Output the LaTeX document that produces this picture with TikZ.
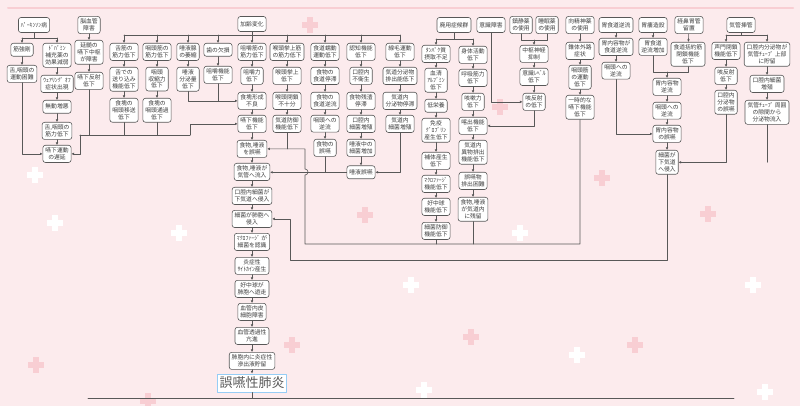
\documentclass[tikz,border=0pt]{standalone}
\usepackage{fontspec}
\newfontfamily\jp{Noto Sans CJK JP}
\usetikzlibrary{arrows.meta}
\definecolor{bgpink}{RGB}{252,235,237}
\definecolor{crpink}{RGB}{248,206,211}
\definecolor{edge}{RGB}{88,88,88}
\definecolor{ink}{RGB}{60,60,60}
\definecolor{ttl}{RGB}{150,205,245}
\begin{document}
\begin{tikzpicture}[x=1pt,y=-1pt,line cap=round,line join=round,
  bx/.style={draw=edge,fill=white,rounded corners=2.5pt,line width=0.6pt,align=center,anchor=north,
    inner xsep=2.5pt,inner ysep=2.5pt,minimum width=22pt,minimum height=13pt,text=ink,
    font=\jp\fontsize{5.8}{6.8}\selectfont},
  hd/.style={anchor=center,minimum height=15pt},
  arr/.style={draw=edge,line width=0.6pt,-{Latex[length=2.6pt,width=2.6pt]}},
  con/.style={draw=edge,line width=0.6pt}]
  \def\pluscross#1#2#3{\fill[#3] (#1-3,#2-8) rectangle (#1+3,#2+8); \fill[#3] (#1-8,#2-3) rectangle (#1+8,#2+3);}
  \fill[bgpink] (0,0) rectangle (800,406);
  \useasboundingbox (0,0) rectangle (800,406);
  \draw[crpink,line width=2pt] (8,8) -- (793,8);
  \pluscross{310}{25}{crpink} \pluscross{500}{107}{crpink} \pluscross{602}{178}{crpink}
  \pluscross{708}{214}{crpink} \pluscross{365}{215}{crpink} \pluscross{292}{345}{crpink}
  \pluscross{36}{365}{crpink} \pluscross{471}{337}{crpink} \pluscross{635}{345}{crpink}
  \pluscross{148}{401}{crpink}
  \pluscross{35}{175}{white} \pluscross{55}{223}{white} \pluscross{179}{233}{white}
  \pluscross{411}{285}{white} \pluscross{577}{355}{white} \pluscross{753}{285}{white}
  \pluscross{520}{233}{white} \pluscross{424}{390}{white} \pluscross{765}{392}{white}
  \coordinate (bA) at (0,38); \coordinate (bK) at (0,35); \coordinate (bH) at (0,39);
  \coordinate (bC) at (0,40); \coordinate (bS) at (0,35);
  \coordinate (j1) at (80,135); \coordinate (j2) at (190,135);
  \coordinate (j3) at (305,244); \coordinate (j4) at (290,260); \coordinate (j5) at (667,72);
  \coordinate (bl) at (88,398); \coordinate (br) at (734,398);

  \node[bx,hd] (pk) at (34,25) {ﾊﾟｰｷﾝｿﾝ病};
  \node[bx] (kyo) at (22,43) {筋強剛};
  \node[bx] (undo) at (22,65) {舌,咽頭の\\運動困難};
  \node[bx] (dopa) at (57,43) {ﾄﾞﾊﾟﾐﾝ\\補充薬の\\効果減弱};
  \node[bx] (woff) at (57,75) {ｳｪｱﾘﾝｸﾞ ｵﾌ\\症状出現};
  \node[bx] (mudo) at (57,100) {無動増悪};
  \node[bx] (zkin) at (57,122) {舌,咽頭の\\筋力低下};
  \node[bx] (chien) at (57,145) {嚥下運動\\の遅延};
  \node[bx,hd] (nou) at (89,25) {脳血管\\障害};
  \node[bx] (enzui) at (89,40) {延髄の\\嚥下中枢\\が障害};
  \node[bx] (hansha) at (89,72) {嚥下反射\\低下};

  \node[bx,hd] (karei) at (252,24) {加齢変化};
  \node[bx] (zekkin) at (124,43) {舌筋の\\筋力低下};
  \node[bx] (okuri) at (124,67) {舌での\\送り込み\\機能低下};
  \node[bx] (iso) at (124,98) {食塊の\\咽頭移送\\低下};
  \node[bx] (inkin) at (157,43) {咽頭筋の\\筋力低下};
  \node[bx] (shuku) at (157,67) {咽頭\\収縮力\\低下};
  \node[bx] (tsuka) at (157,98) {食塊の\\咽頭通過\\低下};
  \node[bx] (daeki) at (188,43) {唾液腺\\の萎縮};
  \node[bx] (bunpi) at (188,67) {唾液\\分泌量\\低下};
  \node[bx] (ha) at (218,43) {歯の欠損};
  \node[bx] (soshaku) at (218,66) {咀嚼機能\\低下};
  \node[bx] (sokin) at (252,43) {咀嚼筋の\\筋力低下};
  \node[bx] (soryoku) at (252,67) {咀嚼力\\低下};
  \node[bx] (keisei) at (252,92) {食塊形成\\不良};
  \node[bx] (enge) at (252,115) {嚥下機能\\低下};
  \node[bx] (kokin) at (287,43) {喉頭挙上筋\\の筋力低下};
  \node[bx] (kyojo) at (287,67) {喉頭挙上\\低下};
  \node[bx] (heisa) at (287,92) {喉頭閉鎖\\不十分};
  \node[bx] (bogyo) at (287,115) {気道防御\\機能低下};
  \node[bx] (zendo) at (325,43) {食道蠕動\\運動低下};
  \node[bx] (teitai) at (325,67) {食物の\\食道停滞};
  \node[bx] (gyaku) at (325,92) {食物の\\食道逆流};
  \node[bx] (ingyaku) at (325,115) {咽頭への\\逆流};
  \node[bx] (shokugo) at (325,139) {食物の\\誤嚥};
  \node[bx] (ninchi) at (361,43) {認知機能\\低下};
  \node[bx] (fuei) at (361,67) {口腔内\\不衛生};
  \node[bx] (zansa) at (361,92) {食物残渣\\停滞};
  \node[bx] (kzo) at (361,115) {口腔内\\細菌増殖};
  \node[bx] (dzo) at (361,139) {唾液中の\\細菌増加};
  \node[bx] (dgo) at (361,165.5) {唾液誤嚥};
  \node[bx] (senmo) at (400,43) {線毛運動\\低下};
  \node[bx] (haishutsu) at (400,67) {気道分泌物\\排出能低下};
  \node[bx] (bteitai) at (400,92) {気道内\\分泌物停滞};
  \node[bx] (bzo) at (400,115) {気道内\\細菌増殖};

  \node[bx] (sgo) at (252,140) {食物,唾液\\を誤嚥};
  \node[bx] (ryunyu) at (252,163) {食物,唾液が\\気管へ流入};
  \node[bx] (shinnyu) at (252,187) {口腔内細菌が\\下気道へ侵入};
  \node[bx] (haihou) at (252,210) {細菌が肺胞へ\\侵入};
  \node[bx] (macro) at (252,233) {ﾏｸﾛﾌｧｰｼﾞ が\\細菌を認識};
  \node[bx] (cyto) at (252,257) {炎症性\\ｻｲﾄｶｲﾝ産生};
  \node[bx] (kochu) at (252,280) {好中球が\\肺胞へ遊走};
  \node[bx] (naihi) at (252,303) {血管内皮\\細胞障害};
  \node[bx] (toka) at (252,327) {血管透過性\\亢進};
  \node[bx] (shinshutsu) at (252,352) {肺胞内に炎症性\\滲出液貯留};
  \node[draw=ttl,fill=white,line width=1pt,inner xsep=2pt,inner ysep=1pt,minimum height=18pt,text=ink!85,
    font=\jp\fontsize{13}{13}\selectfont] (title) at (252,383) {誤嚥性肺炎};

  \node[bx,hd] (haiyo) at (454,25) {廃用症候群};
  \node[bx] (tanpaku) at (436,45) {ﾀﾝﾊﾟｸ質\\摂取不足};
  \node[bx] (alb) at (436,68) {血清\\ｱﾙﾌﾞﾐﾝ\\低下};
  \node[bx] (teiei) at (436,99) {低栄養};
  \node[bx] (men) at (436,118) {免疫\\ｸﾞﾛﾌﾞﾘﾝ\\産生低下};
  \node[bx] (hotai) at (436,152) {補体産生\\低下};
  \node[bx] (mkino) at (436,175) {ﾏｸﾛﾌｧｰｼﾞ\\機能低下};
  \node[bx] (ckino) at (436,198) {好中球\\機能低下};
  \node[bx] (bbogyo) at (436,222) {細菌防御\\機能低下};
  \node[bx] (katsudo) at (473,46) {身体活動\\低下};
  \node[bx] (kokyu) at (473,69) {呼吸筋力\\低下};
  \node[bx] (gaiso) at (473,93) {咳嗽力\\低下};
  \node[bx] (kaku) at (473,117) {喀出機能\\低下};
  \node[bx] (ibutsu) at (473,140) {気道内\\異物排出\\機能低下};
  \node[bx] (gohai) at (473,172) {誤嚥物\\排出困難};
  \node[bx] (zanryu) at (473,197) {食物,唾液\\が気道内\\に残留};

  \node[bx,hd] (ishiki) at (491,25) {意識障害};
  \node[bx,hd] (chinsei) at (521,25) {鎮静薬\\の使用};
  \node[bx,hd] (suimin) at (547,25) {睡眠薬\\の使用};
  \node[bx] (chusu) at (534,45) {中枢神経\\抑制};
  \node[bx] (level) at (534,68) {意識ﾚﾍﾞﾙ\\低下};
  \node[bx] (seki) at (534,93) {咳反射\\の低下};
  \node[bx,hd] (kosei) at (580,25) {向精神薬\\の使用};
  \node[bx] (suitai) at (580,42) {錐体外路\\症状};
  \node[bx] (inundo) at (580,65) {咽頭筋\\の運動\\低下};
  \node[bx] (ichiji) at (580,95) {一時的な\\嚥下機能\\低下};
  \node[bx,hd] (igerd) at (616,25) {胃食道逆流};
  \node[bx] (inaiyo) at (616,38) {胃内容物が\\食道逆流};
  \node[bx] (ingyaku2) at (616,62) {咽頭への\\逆流};
  \node[bx,hd] (irou) at (653,25) {胃瘻造設};
  \node[bx] (izo) at (653,38) {胃食道\\逆流増加};
  \node[bx,hd] (keibi) at (689,25) {経鼻胃管\\留置};
  \node[bx] (katsuyaku) at (688,42) {食道括約筋\\閉鎖機能\\低下};
  \node[bx] (ngyaku) at (667,78) {胃内容物\\逆流};
  \node[bx] (ingyaku3) at (667,102) {咽頭への\\逆流};
  \node[bx] (igo) at (667,125) {胃内容物\\の誤嚥};
  \node[bx] (kadoki) at (667,150) {細菌が\\下気道\\へ侵入};
  \node[bx,hd] (sokan) at (741,25) {気管挿管};
  \node[bx] (seimon) at (726,42) {声門閉鎖\\機能低下};
  \node[bx] (seki2) at (726,67) {咳反射\\低下};
  \node[bx] (bgo) at (726,90) {口腔内\\分泌物\\の誤嚥};
  \node[bx] (choryu) at (767,42) {口腔内分泌物が\\気管ﾁｭｰﾌﾞ 上部\\に貯留};
  \node[bx] (kzo2) at (767,75) {口腔内細菌\\増殖};
  \node[bx] (sukima) at (767,100) {気管ﾁｭｰﾌﾞ 周囲\\の隙間から\\分泌物流入};

  \draw[con] (pk) -- (pk |- bA); \draw[con] (kyo |- bA) -- (dopa |- bA);
  \draw[arr] (kyo |- bA) -- (kyo); \draw[arr] (dopa |- bA) -- (dopa);
  \draw[arr] (kyo) -- (undo); \draw[arr] (dopa) -- (woff); \draw[arr] (woff) -- (mudo);
  \draw[arr] (mudo) -- (zkin); \draw[arr] (zkin) -- (chien); \draw[arr] (undo) |- (chien);
  \draw[arr] (nou) -- (enzui); \draw[arr] (enzui) -- (hansha);
  \draw[con] (hansha) |- (j1); \draw[arr] (j1) |- (chien); \draw[con] (j1) -- (j2);
  \draw[arr] (j2) |- (enge); \draw[con] (iso) -- (iso |- j1); \draw[con] (tsuka) -- (tsuka |- j1);

  \draw[con] (karei) -- (karei |- bK); \draw[con] (zekkin |- bK) -- (senmo |- bK);
  \draw[arr] (zekkin |- bK) -- (zekkin); \draw[arr] (inkin |- bK) -- (inkin);
  \draw[arr] (daeki |- bK) -- (daeki); \draw[arr] (ha |- bK) -- (ha);
  \draw[arr] (sokin |- bK) -- (sokin); \draw[arr] (kokin |- bK) -- (kokin);
  \draw[arr] (zendo |- bK) -- (zendo); \draw[arr] (ninchi |- bK) -- (ninchi);
  \draw[arr] (senmo |- bK) -- (senmo);
  \draw[arr] (zekkin) -- (okuri); \draw[arr] (okuri) -- (iso);
  \draw[arr] (inkin) -- (shuku); \draw[arr] (shuku) -- (tsuka);
  \draw[arr] (daeki) -- (bunpi); \draw[arr] (ha) -- (soshaku);
  \draw[arr] (bunpi) |- (keisei); \draw[con] (soshaku) -- (soshaku |- keisei);
  \draw[arr] (sokin) -- (soryoku); \draw[arr] (soryoku) -- (keisei); \draw[arr] (keisei) -- (enge);
  \draw[arr] (enge) -- (sgo); \draw[arr] (sgo) -- (ryunyu); \draw[arr] (ryunyu) -- (shinnyu);
  \draw[arr] (shinnyu) -- (haihou); \draw[arr] (haihou) -- (macro); \draw[arr] (macro) -- (cyto);
  \draw[arr] (cyto) -- (kochu); \draw[arr] (kochu) -- (naihi); \draw[arr] (naihi) -- (toka);
  \draw[arr] (toka) -- (shinshutsu); \draw[arr] (shinshutsu) -- (title);
  \draw[arr] (kokin) -- (kyojo); \draw[arr] (kyojo) -- (heisa); \draw[arr] (heisa) -- (bogyo);
  \draw[con] (bogyo) -- (bogyo |- sgo);
  \draw[arr] (zendo) -- (teitai); \draw[arr] (teitai) -- (gyaku); \draw[arr] (gyaku) -- (ingyaku);
  \draw[arr] (ingyaku) -- (shokugo); \draw[con] (shokugo) -- (shokugo |- dgo);
  \draw[arr] (ninchi) -- (fuei); \draw[arr] (fuei) -- (zansa); \draw[arr] (zansa) -- (kzo);
  \draw[arr] (kzo) -- (dzo); \draw[arr] (dzo) -- (dgo); \draw[arr] (dgo) -- (dgo -| ryunyu.east);
  \draw[arr] (senmo) -- (haishutsu); \draw[arr] (haishutsu) -- (bteitai); \draw[arr] (bteitai) -- (bzo);
  \draw[arr] (bzo) |- (dgo);

  \draw[con] (haiyo) -- (haiyo |- bH); \draw[con] (tanpaku |- bH) -- (katsudo |- bH);
  \draw[arr] (tanpaku |- bH) -- (tanpaku); \draw[arr] (katsudo |- bH) -- (katsudo);
  \draw[arr] (tanpaku) -- (alb); \draw[arr] (alb) -- (teiei); \draw[arr] (teiei) -- (men);
  \draw[arr] (men) -- (hotai); \draw[arr] (hotai) -- (mkino); \draw[arr] (mkino) -- (ckino);
  \draw[arr] (ckino) -- (bbogyo);
  \draw[arr] (katsudo) -- (kokyu); \draw[arr] (kokyu) -- (gaiso); \draw[arr] (gaiso) -- (kaku);
  \draw[arr] (kaku) -- (ibutsu); \draw[arr] (ibutsu) -- (gohai); \draw[arr] (gohai) -- (zanryu);
  \draw[con] (bbogyo) -- (bbogyo |- j3); \draw[con] (zanryu) -- (zanryu |- j3);
  \draw[arr] (ichiji) |- (j3) -- (305,175) arc[start angle=90,end angle=-90,radius=3] |- (sgo);

  \draw[arr] (ishiki) |- (seki);
  \draw[con] (chinsei) -- (chinsei |- bC) -- (suimin |- bC) -- (suimin);
  \draw[arr] (chusu |- bC) -- (chusu); \draw[arr] (chusu) -- (level); \draw[arr] (level) -- (seki);
  \draw[arr] (seki) |- (kaku);
  \draw[arr] (kosei) -- (suitai); \draw[arr] (suitai) -- (inundo); \draw[arr] (inundo) -- (ichiji);
  \draw[arr] (igerd) -- (inaiyo); \draw[arr] (inaiyo) -- (ingyaku2); \draw[arr] (ingyaku2) |- (igo);
  \draw[arr] (irou) -- (izo); \draw[arr] (keibi) -- (katsuyaku);
  \draw[con] (izo) |- (katsuyaku |- j5) -- (katsuyaku); \draw[arr] (j5) -- (ngyaku);
  \draw[arr] (ngyaku) -- (ingyaku3); \draw[arr] (ingyaku3) -- (igo); \draw[arr] (igo) -- (kadoki);
  \draw[con] (sokan) -- (sokan |- bS); \draw[con] (seimon |- bS) -- (choryu |- bS);
  \draw[arr] (seimon |- bS) -- (seimon); \draw[arr] (choryu |- bS) -- (choryu);
  \draw[arr] (seimon) -- (seki2); \draw[arr] (seki2) -- (bgo);
  \draw[arr] (choryu) -- (kzo2); \draw[arr] (kzo2) -- (sukima);
  \draw[arr] (bgo) |- (kadoki); \draw[con] (sukima) -- (sukima |- kadoki);
  \draw[arr] (kadoki) |- (j4) |- (haihou);

  \draw[con] (bl) -- (br); \draw[con] (title) -- (title |- bl);
\end{tikzpicture}
\end{document}
